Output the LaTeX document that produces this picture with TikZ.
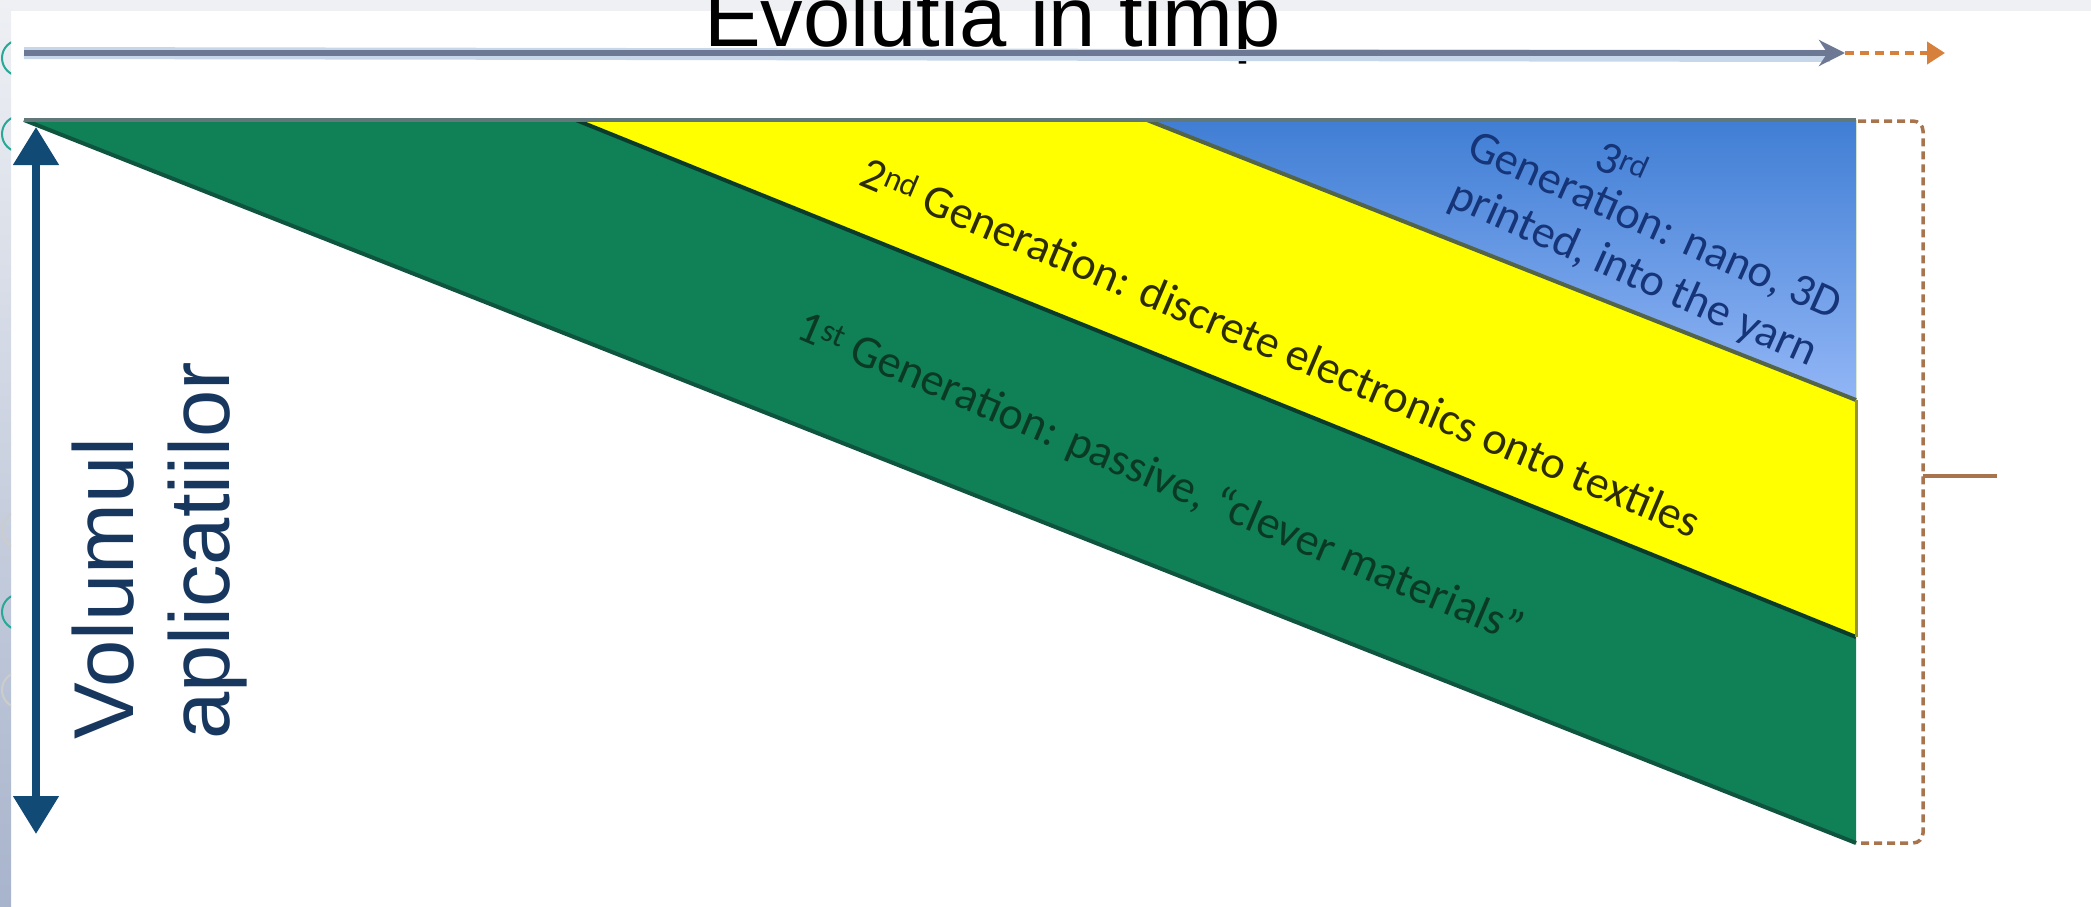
\documentclass[tikz,border=0pt]{standalone}
\usepackage{fontspec}
\setmainfont{Carlito}
\newfontfamily\arialfont{Liberation Sans}
\usetikzlibrary{arrows.meta}

\definecolor{gengreen}{RGB}{16,128,86}
\definecolor{greenedge}{RGB}{14,84,62}
\definecolor{genyellow}{RGB}{255,255,0}
\definecolor{bluetop}{RGB}{64,126,212}
\definecolor{bluebot}{RGB}{146,182,246}
\definecolor{arrowblue}{RGB}{18,74,118}
\definecolor{labelblue}{RGB}{23,55,94}
\definecolor{slate}{RGB}{108,120,148}
\definecolor{glow}{RGB}{200,214,234}
\definecolor{dashorange}{RGB}{214,128,60}
\definecolor{bracebrown}{RGB}{168,116,78}
\definecolor{stripgray}{RGB}{238,240,244}
\definecolor{stripblue}{RGB}{168,180,204}
\definecolor{decoteal}{RGB}{40,168,150}
\definecolor{topedge}{RGB}{96,120,122}
\definecolor{olivedge}{RGB}{150,150,40}
\definecolor{blueedge}{RGB}{84,100,70}
\definecolor{gen1text}{RGB}{10,58,36}
\definecolor{gen2text}{RGB}{44,44,0}
\definecolor{gen3text}{RGB}{22,52,120}

\begin{document}
\begin{tikzpicture}[x=1pt,y=-1pt,
  genlabel/.style={font=\fontsize{46}{52}\selectfont, inner sep=0pt, align=center},
  axislabel/.style={font=\arialfont\fontsize{85}{96}\selectfont, text=labelblue, inner sep=0pt},
  timeline/.style={draw=slate, line width=6pt},
  brace/.style={draw=bracebrown, line width=3.5pt, dash pattern=on 8pt off 5pt}
]
\useasboundingbox (0,0) rectangle (2091,907);
\clip (0,0) rectangle (2091,907);

% slide background
\fill[stripgray] (0,0) rectangle (2091,11);
\shade[top color=stripgray, bottom color=stripblue] (0,0) rectangle (11,907);
\begin{scope}
  \clip (0,0) rectangle (11,907);
  \foreach \yc/\col in {58/decoteal, 134/decoteal, 530/gray!40, 612/decoteal, 690/gray!40}
    \draw[\col, line width=2pt] (20,\yc) circle (18);
\end{scope}

\node[font=\arialfont\fontsize{85}{96}\selectfont, anchor=base west, inner sep=0pt] (title) at (704,47) {Evolutia in timp};

% time axis
\coordinate (t0) at (24,53);
\coordinate (t1) at (1845,53);
\coordinate (t2) at (1945,53);
\draw[glow, line width=12pt] (t0) -- (1830,56);
\draw[timeline, -{Stealth[length=26pt,width=26pt]}] (t0) -- (t1);
\draw[draw=dashorange, line width=4pt, dash pattern=on 9pt off 6pt,
  -{Triangle[length=18pt,width=22pt]}] (t1) -- (t2);

% generations
\coordinate (tl) at (24,120);
\coordinate (tr) at (1856,120);
\coordinate (br) at (1856,843);
\coordinate (y0) at (576,120);
\coordinate (y1) at (1856,637);
\coordinate (b0) at (1147,120);
\coordinate (b1) at (1856,400);
\fill[gengreen] (tl) -- (tr) -- (br) -- cycle;
\draw[greenedge, line width=4pt] (tl) -- (br);
\fill[genyellow] (y0) -- (tr) -- (y1) -- cycle;
\shade[top color=bluetop, bottom color=bluebot] (b0) -- (tr) -- (b1) -- cycle;
\draw[greenedge!70!black, line width=4pt] (y0) -- (y1);
\draw[blueedge, line width=4pt] (b0) -- (b1);
\draw[olivedge, line width=3pt] (b1) -- (y1);
\draw[topedge, line width=4pt] (tl) -- (tr);

\node[genlabel, text=gen3text, rotate=-24] (gen3) at (1652,232)
  {3\textsuperscript{rd}\hspace*{110pt}\\[-10pt]Generation: nano, 3D\\printed, into the yarn};
\node[genlabel, text=gen2text, rotate=-23] (gen2) at (1281,347)
  {2\textsuperscript{nd} Generation: discrete electronics onto textiles};
\node[genlabel, text=gen1text, rotate=-23] (gen1) at (1160,479)
  {1\textsuperscript{st} Generation: passive, “clever materials”};

% volume axis
\coordinate (vtop) at (36,127);
\coordinate (vbot) at (36,834);
\draw[arrowblue, line width=8pt,
  {Triangle[length=38pt,width=44pt]}-{Triangle[length=38pt,width=44pt]}] (vtop) -- (vbot);
\node[axislabel, rotate=90, anchor=base west] (vol) at (133,740) {Volumul};
\node[axislabel, rotate=90, anchor=base west] (apl) at (229,740) {aplicatiilor};

% brace
\coordinate (bt) at (1858,121);
\coordinate (bm) at (1923,476);
\coordinate (bn) at (1997,476);
\coordinate (bb) at (1856,843);
\draw[brace, rounded corners=10pt] (bt) -| (bm) |- (bb);
\draw[brace, solid] (bm) -- (bn);
\end{tikzpicture}
\end{document}
